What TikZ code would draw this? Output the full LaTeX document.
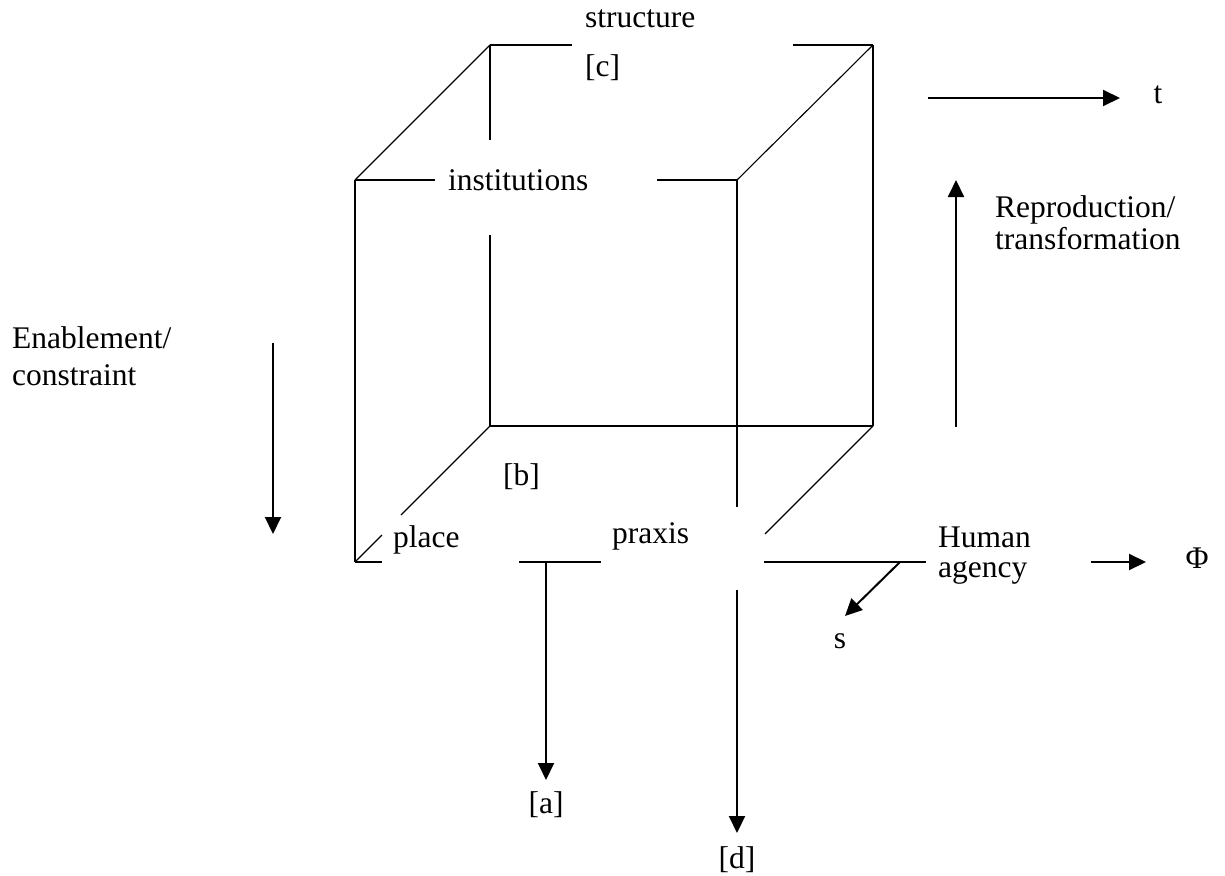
\documentclass[tikz,border=0pt]{standalone}
\usepackage{fontspec}
\setmainfont{Liberation Serif}
\usetikzlibrary{arrows.meta}
\begin{document}
\begin{tikzpicture}[x=1pt,y=-1pt,
  edge/.style={line width=1.1pt},
  flow/.style={line width=2pt,-{Triangle[length=17pt,width=16pt]}},
  lbl/.style={inner sep=0pt,font=\fontsize{31.5}{35}\selectfont},
]
\useasboundingbox (0,0) rectangle (1225,875);

% cube corners (back face and front face)
\coordinate (btl) at (490,45);
\coordinate (btr) at (873,45);
\coordinate (bbl) at (490,426);
\coordinate (bbr) at (873,426);
\coordinate (ftl) at (355,180);
\coordinate (ftr) at (737,180);
\coordinate (fbl) at (355,562);

% break points where labels interrupt the edges
\coordinate (btA) at (572,45);
\coordinate (btB) at (793,45);
\coordinate (blA) at (490,140);
\coordinate (blB) at (490,235);
\coordinate (ftA) at (435,180);
\coordinate (ftB) at (657,180);
\coordinate (frA) at (737,507);
\coordinate (dgA) at (401,515);
\coordinate (dgB) at (382,535);
\coordinate (fbA) at (382,562);
\coordinate (fbB) at (519,562);
\coordinate (fbC) at (601,562);
\coordinate (fbD) at (764,562);
\coordinate (fbE) at (926,562);
\coordinate (drA) at (765,534);

% cube edges
\draw[edge] (btl) -- (btA);
\draw[edge] (btB) -- (btr);
\draw[edge] (btl) -- (blA);
\draw[edge] (blB) -- (bbl);
\draw[edge] (btl) -- (ftl);
\draw[edge] (btr) -- (ftr);
\draw[edge] (btr) -- (bbr);
\draw[edge] (bbl) -- (bbr);
\draw[edge] (ftl) -- (ftA);
\draw[edge] (ftB) -- (ftr);
\draw[edge] (ftl) -- (fbl);
\draw[edge] (ftr) -- (frA);
\draw[edge] (bbl) -- (dgA);
\draw[edge] (dgB) -- (fbl);
\draw[edge] (fbl) -- (fbA);
\draw[edge] (fbB) -- (fbC);
\draw[edge] (bbr) -- (drA);
\draw[line width=1.8pt] (fbD) -- (fbE);

% labels
\node[lbl,anchor=base west] (struct) at (585,28) {structure};
\node[lbl,anchor=base west] (c) at (585,76) {[c]};
\node[lbl,anchor=base west] (inst) at (448,190) {institutions};
\node[lbl,anchor=base west] (b) at (503,485) {[b]};
\node[lbl,anchor=base west] (place) at (393,547) {place};
\node[lbl,anchor=base west] (praxis) at (612,543) {praxis};
\node[lbl,anchor=base west] (human) at (938,547) {Human};
\node[lbl,anchor=base west] (agency) at (938,577) {agency};
\node[lbl,anchor=base] (s) at (840,648) {s};
\node[lbl,anchor=base] (phi) at (1197,568) {Φ};
\node[lbl,anchor=base] (t) at (1158,103) {t};
\node[lbl,anchor=base west] (repro) at (995,217) {Reproduction/};
\node[lbl,anchor=base west] (transf) at (995,249) {transformation};
\node[lbl,anchor=base west] (enab) at (12,348) {Enablement/};
\node[lbl,anchor=base west] (constr) at (12,385) {constraint};
\node[lbl,anchor=base] (a) at (546,813) {[a]};
\node[lbl,anchor=base] (d) at (737,868) {[d]};

% arrow ends
\coordinate (aS) at (546,562);
\coordinate (aE) at (546,780);
\coordinate (dS) at (737,590);
\coordinate (dE) at (737,833);
\coordinate (sS) at (900,562);
\coordinate (sE) at (845,616);
\coordinate (pS) at (1091,562);
\coordinate (pE) at (1146,562);
\coordinate (tS) at (928,98);
\coordinate (tE) at (1120,98);
\coordinate (rS) at (956,427);
\coordinate (rE) at (956,180);
\coordinate (eS) at (273,343);
\coordinate (eE) at (273,534);

% arrows
\draw[flow] (aS) -- (aE);
\draw[flow] (dS) -- (dE);
\draw[flow] (sS) -- (sE);
\draw[flow] (pS) -- (pE);
\draw[flow] (tS) -- (tE);
\draw[flow] (rS) -- (rE);
\draw[flow] (eS) -- (eE);
\end{tikzpicture}
\end{document}
